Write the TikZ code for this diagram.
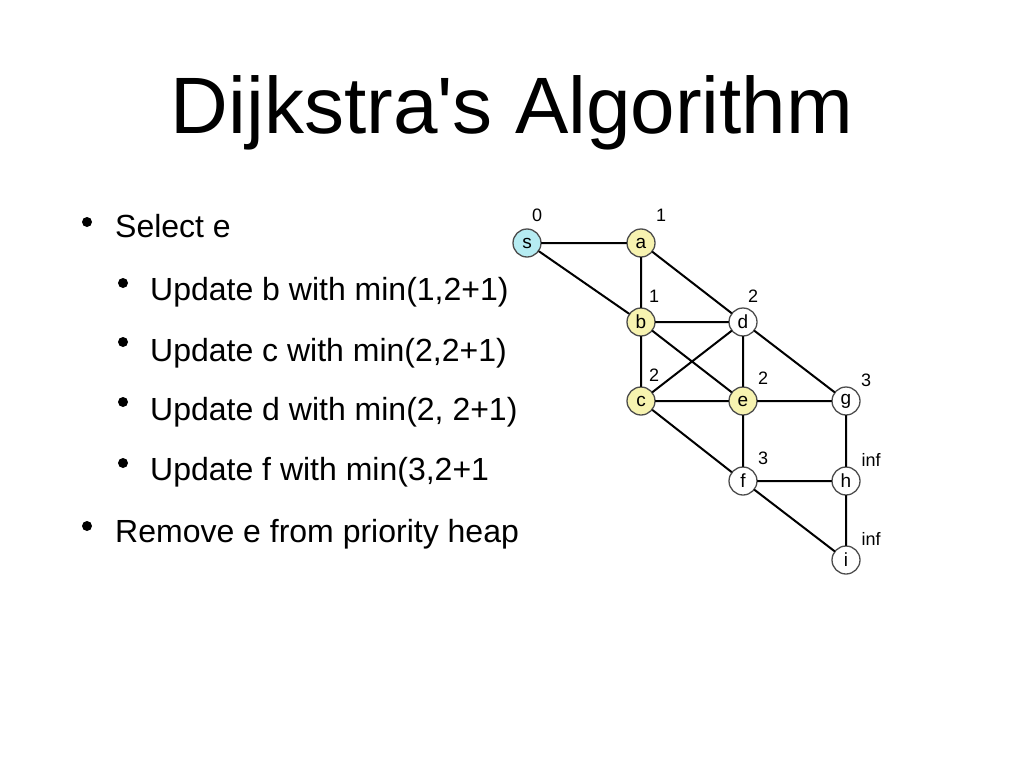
\documentclass[tikz,border=0pt]{standalone}
\usepackage{fontspec}
\setmainfont{Liberation Sans}
\definecolor{startblue}{RGB}{182,236,242}
\definecolor{doneyellow}{RGB}{247,243,176}
\begin{document}
\begin{tikzpicture}[x=1pt,y=-1pt,line join=round,line cap=round,
  vtx/.style={circle,draw=black!70,line width=1.3pt,fill=white,minimum size=28pt,inner sep=0pt,font=\fontsize{19}{19}\selectfont},
  wt/.style={font=\fontsize{18}{18}\selectfont,inner sep=0pt},
  txt/.style={anchor=base west,inner sep=0pt,font=\fontsize{32}{38}\selectfont},
  dot/.style={circle,fill=black,minimum size=10pt,inner sep=0pt}]
\useasboundingbox (0,0) rectangle (1024,768);
\node[anchor=base,inner sep=0pt,font=\fontsize{80}{90}\selectfont] (title) at (512,133) {Dijkstra{\textquotesingle}s Algorithm};
% bullet list
\node[dot] (p1) at (87,222) {};
\node[txt] (t1) at (115,237) {Select e};
\node[dot] (p2) at (123,283) {};
\node[txt] (t2) at (150,300) {Update b with min(1,2+1)};
\node[dot] (p3) at (123,342) {};
\node[txt] (t3) at (150,361) {Update c with min(2,2+1)};
\node[dot] (p4) at (123,402) {};
\node[txt] (t4) at (150,420) {Update d with min(2, 2+1)};
\node[dot] (p5) at (123,463) {};
\node[txt] (t5) at (150,480) {Update f with min(3,2+1};
\node[dot] (p6) at (87,526) {};
\node[txt] (t6) at (115,542) {Remove e from priority heap};
% graph
\node[vtx,fill=startblue] (s) at (527,243) {s};
\node[vtx,fill=doneyellow] (a) at (641,243) {a};
\node[vtx,fill=doneyellow] (b) at (641,322) {b};
\node[vtx] (d) at (743,322) {d};
\node[vtx,fill=doneyellow] (c) at (641,401) {c};
\node[vtx,fill=doneyellow] (e) at (743,401) {e};
\node[vtx] (g) at (846,401) {g};
\node[vtx] (f) at (743,481) {f};
\node[vtx] (h) at (846,481) {h};
\node[vtx] (i) at (846,560) {i};
\draw[line width=2pt] (s)--(a) (s)--(b) (a)--(b) (a)--(d) (b)--(d) (b)--(c) (b)--(e)
  (d)--(c) (d)--(e) (d)--(g) (c)--(e) (e)--(g) (c)--(f) (e)--(f) (g)--(h) (f)--(h)
  (f)--(i) (h)--(i);
% distances
\node[wt] (ds) at ([shift={(10,-28)}]s) {0};
\node[wt] (da) at ([shift={(20,-28)}]a) {1};
\node[wt] (db) at ([shift={(13,-26)}]b) {1};
\node[wt] (dd) at ([shift={(10,-26)}]d) {2};
\node[wt] (dc) at ([shift={(13,-26)}]c) {2};
\node[wt] (de) at ([shift={(20,-23)}]e) {2};
\node[wt] (dg) at ([shift={(20,-21)}]g) {3};
\node[wt] (df) at ([shift={(20,-23)}]f) {3};
\node[wt] (dh) at ([shift={(25,-21)}]h) {inf};
\node[wt] (di) at ([shift={(25,-21)}]i) {inf};
\end{tikzpicture}
\end{document}
